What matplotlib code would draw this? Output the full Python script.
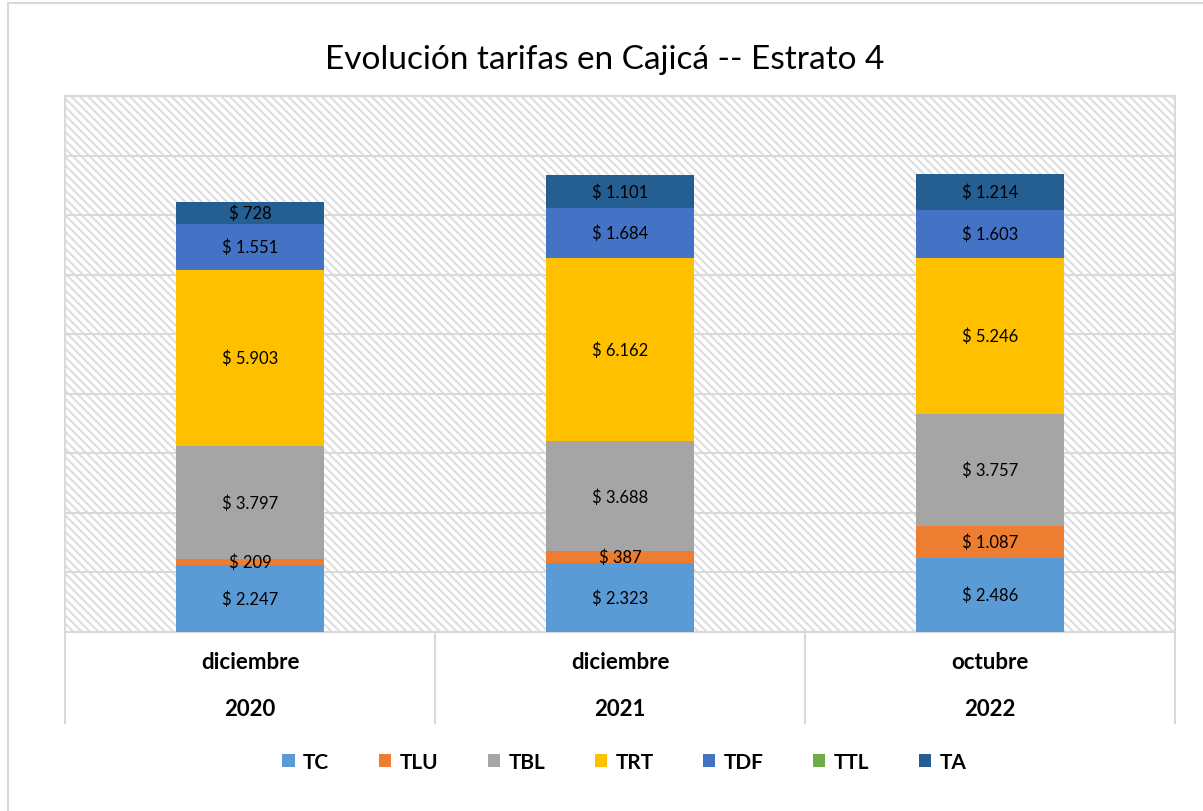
import matplotlib
matplotlib.use("Agg")
import matplotlib.pyplot as plt
from matplotlib.patches import Rectangle
from matplotlib.lines import Line2D
import numpy as np

# Data
months = ["diciembre", "diciembre", "octubre"]
years = ["2020", "2021", "2022"]
series_names = ["TC", "TLU", "TBL", "TRT", "TDF", "TTL", "TA"]
tc = [2247, 2323, 2486]
tlu = [209, 387, 1087]
tbl = [3797, 3688, 3757]
trt = [5903, 6162, 5246]
tdf = [1551, 1684, 1603]
ttl = [0, 0, 0]
ta = [728, 1101, 1214]
title = "Evolución tarifas en Cajicá -- Estrato 4"

series_values = [tc, tlu, tbl, trt, tdf, ttl, ta]
colors = ["#5B9BD5", "#ED7D31", "#A5A5A5", "#FFC000", "#4472C4", "#70AD47", "#255E91"]

plt.rcParams["font.family"] = ["Lato", "DejaVu Sans"]
plt.rcParams["hatch.linewidth"] = 1.4
plt.rcParams["hatch.color"] = "#dcdcdc"

W, H = 1203, 812
fig = plt.figure(figsize=(W / 100, H / 100), dpi=100)

grid_c = "#d9d9d9"

# outer chart border
fig.patches.append(Rectangle((8 / W, -0.1), 1.2, 1 - 4 / H + 0.1, transform=fig.transFigure,
                             fill=False, edgecolor=grid_c, linewidth=1.5))

left, right, top, bottom = 65, 1175, 97, 633
ax = fig.add_axes([left / W, 1 - bottom / H, (right - left) / W, (bottom - top) / H])

# hatched plot-area background
ax.patch.set_facecolor("white")
bg = Rectangle((0, 0), 1, 1, transform=ax.transAxes, facecolor="white",
               edgecolor="#dcdcdc", linewidth=0, hatch="\\\\\\\\", zorder=0.1)
ax.add_patch(bg)

x = np.arange(len(months))
bottoms = np.zeros(len(months))
for name, vals, col in zip(series_names, series_values, colors):
    vals = np.array(vals, dtype=float)
    ax.bar(x, vals, width=0.4, bottom=bottoms, color=col, label=name, zorder=3)
    for xi, b, v in zip(x, bottoms, vals):
        if v > 0:
            ax.text(xi, b + v / 2, "$ " + f"{int(v):,}".replace(",", "."),
                    ha="center", va="center", fontsize=12, color="black", zorder=4)
    bottoms += vals

ax.set_xlim(-0.5, len(months) - 0.5)
ax.set_ylim(0, 18000)
ax.set_yticks(np.arange(0, 18001, 2000))
ax.set_yticklabels([])
ax.set_xticks([])
ax.tick_params(axis="y", length=0)
ax.grid(axis="y", color=grid_c, linewidth=1.5)
ax.set_axisbelow(True)
for s in ax.spines.values():
    s.set_color(grid_c)
    s.set_linewidth(1.5)

# category separators extending into the label band
ext = (724 - bottom) / (bottom - top)
trans = ax.get_xaxis_transform()
for xs in np.arange(-0.5, len(months), 1.0):
    ax.add_line(Line2D([xs, xs], [0, -ext], transform=trans, color=grid_c,
                       linewidth=1.5, clip_on=False))

# two-level category labels
for xi, m, yv in zip(x, months, years):
    ax.text(xi, -(663 - bottom) / (bottom - top), m, transform=trans, ha="center",
            va="center", fontsize=16, fontweight="bold")
    ax.text(xi, -(710 - bottom) / (bottom - top), yv, transform=trans, ha="center",
            va="center", fontsize=16, fontweight="bold")

fig.text(0.503, 1 - 60 / H, title, ha="center", va="center", fontsize=24)

fig.legend(loc="center", bbox_to_anchor=(0.519, 1 - 763 / H), ncol=7, frameon=False,
           prop={"weight": "bold", "size": 15}, handlelength=0.6, handleheight=0.6,
           handletextpad=0.4, columnspacing=2.37)

fig.savefig("out.png", dpi=100)
